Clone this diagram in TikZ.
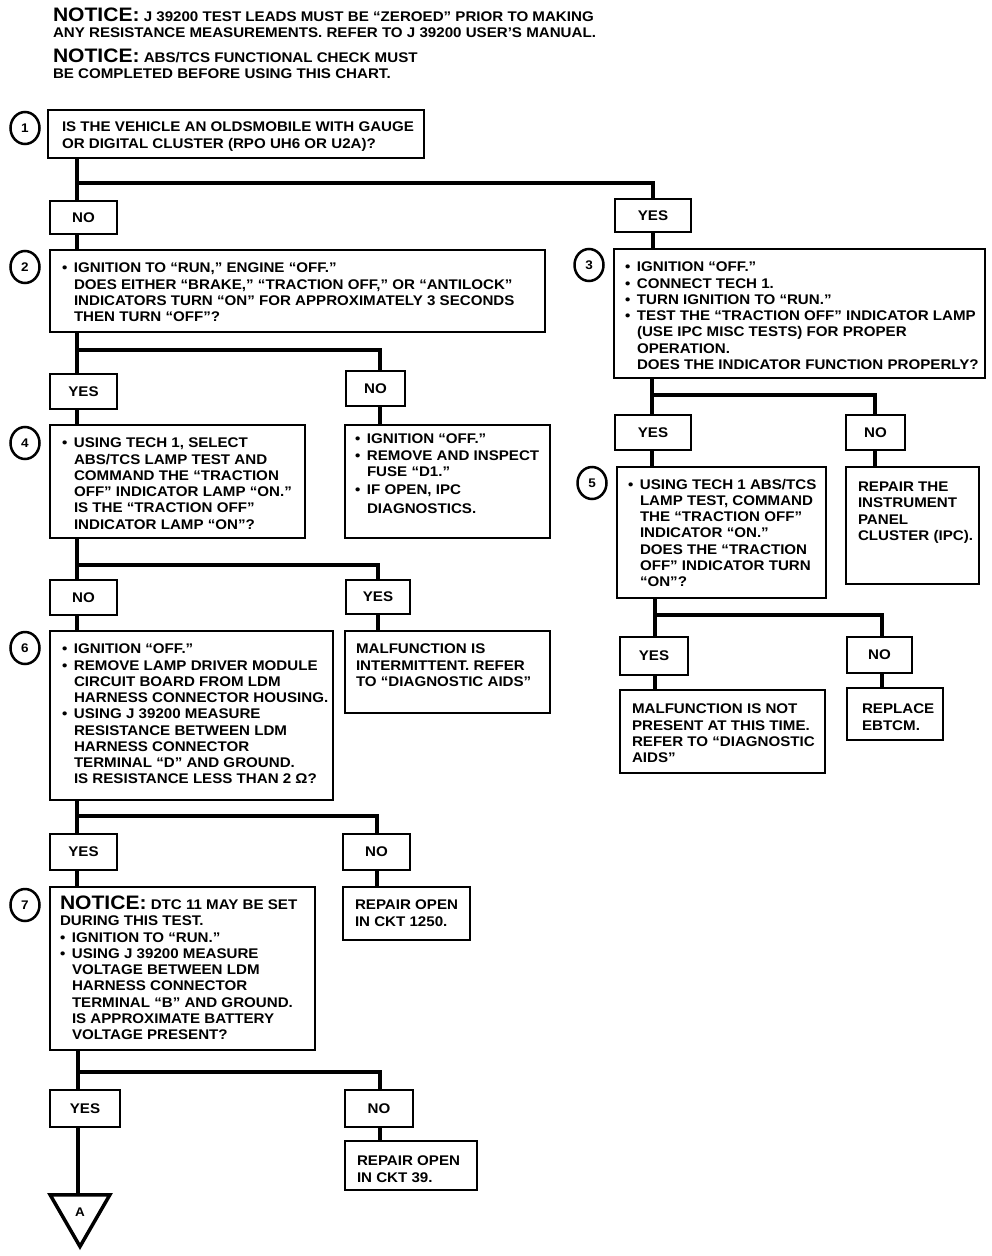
\documentclass[tikz,border=0pt]{standalone}
\usepackage{fontspec}
\setmainfont{Liberation Sans}[FakeStretch=1.08]
\usetikzlibrary{shapes.geometric}
\newcommand\bu{\makebox[12pt][l]{•}}
\newcommand\hi{\hspace*{12pt}}
\newcommand\bignote{{\fontsize{19.5}{20}\selectfont\bfseries NOTICE:}}
\newcommand\bx[6]{\node[boxst, minimum width={#4pt-#2pt}, minimum height={#5pt-#3pt}] (#1) at (#2,#3) {#6};}
\begin{document}
\begin{tikzpicture}[x=1pt,y=-1pt,
  boxst/.style={draw, line width=2.5pt, inner sep=0pt, outer sep=0pt, anchor=north west,
    font=\fontsize{14}{16.25}\selectfont\bfseries},
  txt/.style={anchor=north west, align=left, inner sep=0pt, outer sep=0pt,
    font=\fontsize{14}{16.25}\selectfont\bfseries},
  conn/.style={line width=4pt},
  num/.style={ellipse, draw, line width=2.5pt, minimum width=29pt, minimum height=32pt, inner sep=0pt,
    font=\fontsize{12.5}{12.5}\selectfont\bfseries}]
\useasboundingbox (0,0) rectangle (992,1256);
% notices
\node[txt, anchor=north west] (not1) at (53,8) {\bignote\ J 39200 TEST LEADS MUST BE “ZEROED” PRIOR TO MAKING\\ANY RESISTANCE MEASUREMENTS. REFER TO J 39200 USER’S MANUAL.};
\node[txt, anchor=north west] (not2) at (53,49) {\bignote\ ABS/TCS FUNCTIONAL CHECK MUST\\BE COMPLETED BEFORE USING THIS CHART.};
% numbered circles
\node[num] (c1) at (25,128) {1};
\node[num] (c2) at (25,267) {2};
\node[num] (c3) at (589,265) {3};
\node[num] (c4) at (25,443) {4};
\node[num] (c5) at (592,483) {5};
\node[num] (c6) at (25,648) {6};
\node[num] (c7) at (25,905) {7};
% boxes
\bx{b1}{48}{110}{424}{158}{}
\bx{n1}{50}{201}{117}{234}{NO}
\bx{y1}{615}{199}{691}{232}{YES}
\bx{b2}{50}{250}{545}{332}{}
\bx{b3}{614}{249}{985}{378}{}
\bx{y2}{50}{374}{117}{409}{YES}
\bx{n2}{346}{371}{405}{406}{NO}
\bx{b4}{50}{425}{305}{538}{}
\bx{r2}{345}{425}{550}{538}{}
\bx{y3}{615}{415}{691}{450}{YES}
\bx{n3}{846}{415}{905}{450}{NO}
\bx{b5}{617}{467}{826}{598}{}
\bx{r3}{846}{467}{979}{584}{}
\bx{n4}{50}{580}{117}{615}{NO}
\bx{y4}{346}{580}{410}{614}{YES}
\bx{b6}{50}{631}{333}{800}{}
\bx{r4}{345}{631}{550}{713}{}
\bx{y5}{620}{637}{688}{675}{YES}
\bx{n5}{847}{637}{912}{673}{NO}
\bx{r5y}{620}{690}{825}{773}{}
\bx{r5n}{847}{688}{943}{740}{}
\bx{y6}{50}{834}{117}{870}{YES}
\bx{n6}{343}{834}{410}{870}{NO}
\bx{b7}{50}{887}{315}{1050}{}
\bx{r6}{343}{887}{470}{940}{}
\bx{y7}{50}{1090}{120}{1127}{YES}
\bx{n7}{345}{1090}{413}{1127}{NO}
\bx{r7}{345}{1141}{477}{1190}{}
\node[regular polygon, regular polygon sides=3, shape border rotate=180, draw, line width=3.5pt,
  minimum size=69pt, inner sep=0pt, outer sep=0pt, font=\fontsize{12.5}{12.5}\selectfont\bfseries] (tri) at (80,1212) {A};
% texts
\node[txt] (t1) at (62,122) {IS THE VEHICLE AN OLDSMOBILE WITH GAUGE\\OR DIGITAL CLUSTER (RPO UH6 OR U2A)?};
\node[txt] (t2) at (62,263) {\bu IGNITION TO “RUN,” ENGINE “OFF.”\\\hi DOES EITHER “BRAKE,” “TRACTION OFF,” OR “ANTILOCK”\\\hi INDICATORS TURN “ON” FOR APPROXIMATELY 3 SECONDS\\\hi THEN TURN “OFF”?};
\node[txt] (t3) at (625,262) {\bu IGNITION “OFF.”\\\bu CONNECT TECH 1.\\\bu TURN IGNITION TO “RUN.”\\\bu TEST THE “TRACTION OFF” INDICATOR LAMP\\\hi (USE IPC MISC TESTS) FOR PROPER\\\hi OPERATION.\\\hi DOES THE INDICATOR FUNCTION PROPERLY?};
\node[txt] (t4) at (62,438) {\bu USING TECH 1, SELECT\\\hi ABS/TCS LAMP TEST AND\\\hi COMMAND THE “TRACTION\\\hi OFF” INDICATOR LAMP “ON.”\\\hi IS THE “TRACTION OFF”\\\hi INDICATOR LAMP “ON”?};
\node[txt] (tr2) at (355,434) {\bu IGNITION “OFF.”\\\bu REMOVE AND INSPECT\\\hi FUSE “D1.”\\[1.5pt]\bu IF OPEN, IPC\\[3pt]\hi DIAGNOSTICS.};
\node[txt] (t5) at (628,479) {\bu USING TECH 1 ABS/TCS\\\hi LAMP TEST, COMMAND\\\hi THE “TRACTION OFF”\\\hi INDICATOR “ON.”\\\hi DOES THE “TRACTION\\\hi OFF” INDICATOR TURN\\\hi “ON”?};
\node[txt] (tr3) at (858,482) {REPAIR THE\\INSTRUMENT\\PANEL\\CLUSTER (IPC).};
\node[txt] (t6) at (62,644) {\bu IGNITION “OFF.”\\\bu REMOVE LAMP DRIVER MODULE\\\hi CIRCUIT BOARD FROM LDM\\\hi HARNESS CONNECTOR HOUSING.\\\bu USING J 39200 MEASURE\\\hi RESISTANCE BETWEEN LDM\\\hi HARNESS CONNECTOR\\\hi TERMINAL “D” AND GROUND.\\\hi IS RESISTANCE LESS THAN 2 Ω?};
\node[txt] (tr4) at (356,644) {MALFUNCTION IS\\INTERMITTENT. REFER\\TO “DIAGNOSTIC AIDS”};
\node[txt] (tr5y) at (632,704) {MALFUNCTION IS NOT\\PRESENT AT THIS TIME.\\REFER TO “DIAGNOSTIC\\AIDS”};
\node[txt] (tr5n) at (862,704) {REPLACE\\EBTCM.};
\node[txt] (t7) at (60,896) {\bignote\ DTC 11 MAY BE SET\\DURING THIS TEST.\\\bu IGNITION TO “RUN.”\\\bu USING J 39200 MEASURE\\\hi VOLTAGE BETWEEN LDM\\\hi HARNESS CONNECTOR\\\hi TERMINAL “B” AND GROUND.\\\hi IS APPROXIMATE BATTERY\\\hi VOLTAGE PRESENT?};
\node[txt] (tr6) at (355,900) {REPAIR OPEN\\IN CKT 1250.};
\node[txt] (tr7) at (357,1156) {REPAIR OPEN\\IN CKT 39.};
% junction coordinates
\coordinate (j1) at (77,183);
\coordinate (j2) at (77,350);  \coordinate (k2) at (380,350);
\coordinate (j3) at (652,395); \coordinate (k3) at (875,395);
\coordinate (j4) at (77,565);  \coordinate (k4) at (378,565);
\coordinate (j5) at (655,615); \coordinate (k5) at (882,615);
\coordinate (j6) at (77,816);  \coordinate (k6) at (377,816);
\coordinate (j7) at (78,1072); \coordinate (k7) at (380,1072);
% connectors
\draw[conn] (b1.south -| j1) -- (n1.north -| j1);
\draw[conn] (j1) -| (y1.north);
\draw[conn] (n1.south -| j1) -- (b2.north -| j1);
\draw[conn] (y1.south) -- (y1.south |- b3.north);
\draw[conn] (b2.south -| j2) -- (y2.north -| j2);
\draw[conn] (j2) -- (k2) -- (n2.north -| k2);
\draw[conn] (y2.south -| j2) -- (b4.north -| j2);
\draw[conn] (n2.south -| k2) -- (r2.north -| k2);
\draw[conn] (b3.south -| j3) -- (y3.north -| j3);
\draw[conn] (j3) -- (k3) -- (n3.north -| k3);
\draw[conn] (y3.south -| j3) -- (b5.north -| j3);
\draw[conn] (n3.south -| k3) -- (r3.north -| k3);
\draw[conn] (b4.south -| j4) -- (n4.north -| j4);
\draw[conn] (j4) -- (k4) -- (y4.north -| k4);
\draw[conn] (n4.south -| j4) -- (b6.north -| j4);
\draw[conn] (y4.south -| k4) -- (r4.north -| k4);
\draw[conn] (b5.south -| j5) -- (y5.north -| j5);
\draw[conn] (j5) -- (k5) -- (n5.north -| k5);
\draw[conn] (y5.south -| j5) -- (r5y.north -| j5);
\draw[conn] (n5.south -| k5) -- (r5n.north -| k5);
\draw[conn] (b6.south -| j6) -- (y6.north -| j6);
\draw[conn] (j6) -- (k6) -- (n6.north -| k6);
\draw[conn] (y6.south -| j6) -- (b7.north -| j6);
\draw[conn] (n6.south -| k6) -- (r6.north -| k6);
\draw[conn] (b7.south -| j7) -- (y7.north -| j7);
\draw[conn] (j7) -- (k7) -- (n7.north -| k7);
\draw[conn] (y7.south -| j7) -- (tri.north -| j7);
\draw[conn] (n7.south -| k7) -- (r7.north -| k7);
\end{tikzpicture}
\end{document}
